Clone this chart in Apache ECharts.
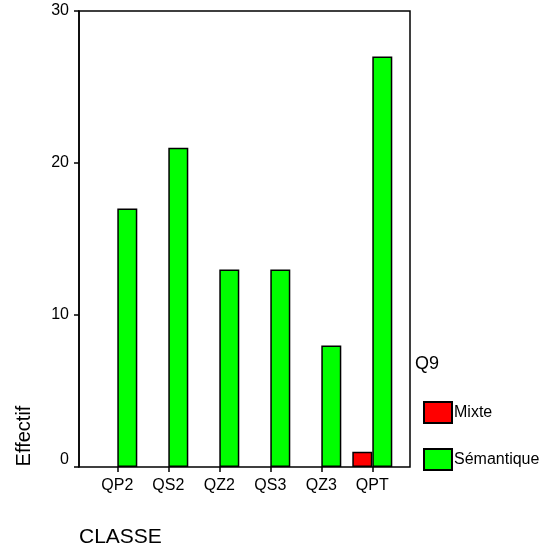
<!DOCTYPE html>
<html>
<head>
<meta charset="utf-8">
<script src="https://cdn.jsdelivr.net/npm/echarts@6/dist/echarts.min.js"></script>
<style>html,body{margin:0;padding:0;background:#fff;}#c{width:544px;height:554px;}</style>
</head>
<body>
<div id="c"></div>
<script>
const categories = ['QP2', 'QS2', 'QZ2', 'QS3', 'QZ3', 'QPT'];
const mixte = [0, 0, 0, 0, 0, 1];
const semantique = [17, 21, 13, 13, 8, 27];
const yTicks = [0, 10, 20, 30];

const FONT = 'Liberation Sans, Arial, sans-serif';
const chart = echarts.init(document.getElementById('c'), null, {renderer: 'canvas'});
const barStyle = (color) => ({color: color, borderColor: '#000', borderWidth: 1.5});
chart.setOption({
  animation: false,
  textStyle: {fontFamily: FONT},
  title: [
    {text: 'Q9', left: 410, top: 350,
      textStyle: {fontFamily: FONT, fontSize: 18, fontWeight: 'normal', color: '#000'}},
    {text: 'CLASSE', left: 74, top: 522,
      textStyle: {fontFamily: FONT, fontSize: 21, fontWeight: 'normal', color: '#000'}}
  ],
  graphic: [
    {type: 'text', x: 24, y: 436, rotation: Math.PI / 2,
      style: {text: 'Effectif', fontFamily: FONT, fontSize: 20, fill: '#000', align: 'center', verticalAlign: 'middle'}}
  ],
  legend: {
    orient: 'vertical', left: 418, top: 396,
    itemWidth: 28, itemHeight: 21, itemGap: 24,
    icon: 'rect',
    textStyle: {fontFamily: FONT, fontSize: 16, color: '#000', padding: [0, 0, 0, -3]},
    data: ['Mixte', 'Sémantique']
  },
  grid: [
    {left: 79, right: 134, top: 11, bottom: 87, show: true, borderColor: '#000', borderWidth: 1.5, backgroundColor: 'transparent'},
    {left: 91.8, right: 146.2, top: 11, bottom: 87}
  ],
  xAxis: [
    {gridIndex: 0, type: 'value', min: 0, max: 1, show: false},
    {gridIndex: 1, type: 'category', data: categories,
      axisLine: {show: false},
      axisTick: {show: true, alignWithLabel: true, length: 5, lineStyle: {color: '#000', width: 1.5}},
      axisLabel: {color: '#000', fontSize: 16, fontFamily: FONT, margin: 11}
    }
  ],
  yAxis: [
    {gridIndex: 0, type: 'value', min: 0, max: 30, interval: 10,
      axisLine: {show: true, lineStyle: {color: '#000', width: 1.5}},
      axisTick: {show: true, length: 5, lineStyle: {color: '#000', width: 1.5}},
      splitLine: {show: false},
      axisLabel: {color: '#000', fontSize: 16, fontFamily: FONT, margin: 10,
        formatter: v => v === 0 ? '{z|0}' : String(v),
        rich: {z: {fontSize: 16, fontFamily: FONT, color: '#000', padding: [0, 0, 14, 0]}}}
    },
    {gridIndex: 1, type: 'value', min: 0, max: 30, interval: 10, show: false}
  ],
  series: [
    {name: 'Mixte', type: 'bar', xAxisIndex: 1, yAxisIndex: 1, data: mixte.map(v => v === 0 ? null : v),
      barWidth: 20, barGap: '0%', itemStyle: barStyle('#ff0000')},
    {name: 'Sémantique', type: 'bar', xAxisIndex: 1, yAxisIndex: 1, data: semantique,
      barWidth: 20, barGap: '0%', itemStyle: barStyle('#00ff00')}
  ]
});
</script>
</body>
</html>
